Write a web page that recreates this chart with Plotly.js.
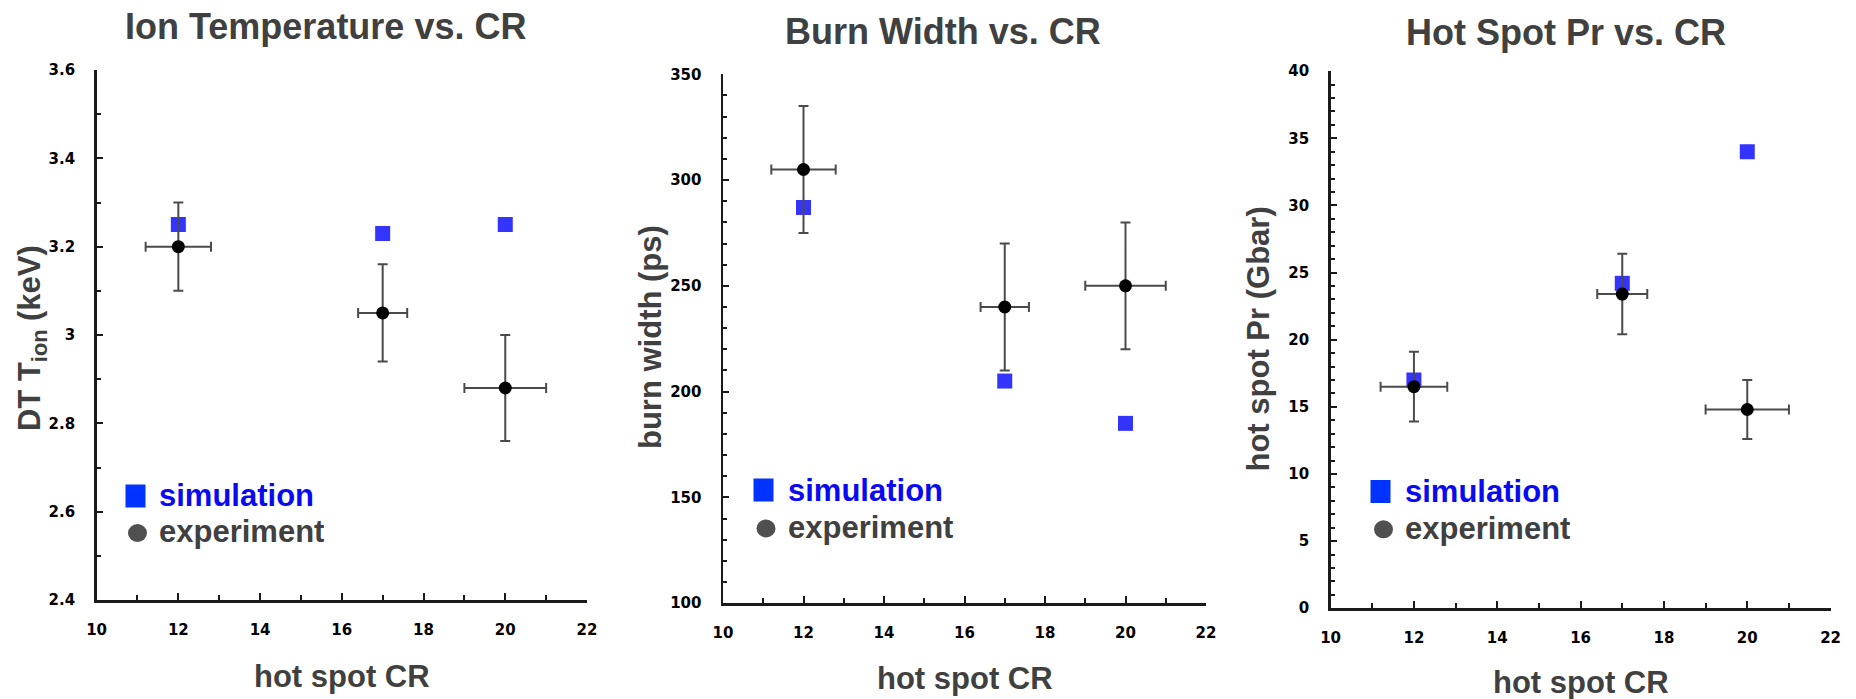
<!DOCTYPE html>
<html>
<head>
<meta charset="utf-8">
<script src="https://cdn.plot.ly/plotly-3.0.1.min.js"></script>
<style>html,body{margin:0;padding:0;background:#fff;}#chart{width:1856px;height:699px;}</style>
</head>
<body>
<div id="chart"></div>
<script>
// ---- data ----
const cr = [12, 17, 20];
const crErr = [0.8, 0.6, 1.0];

const tionSim = [3.25, 3.23, 3.25];
const tionExp = [3.2, 3.05, 2.88];
const tionErr = [0.1, 0.11, 0.12];

const burnSim = [287, 205, 185];
const burnExp = [305, 240, 250];
const burnErr = [30, 30, 30];

const prSim = [17, 24.2, 34];
const prExp = [16.5, 23.4, 14.8];
const prErr = [2.6, 3.0, 2.2];

const panelTitles = ['Ion Temperature vs. CR', 'Burn Width vs. CR', 'Hot Spot Pr vs. CR'];
const yTitles = ['DT T<sub>ion</sub> (keV)', 'burn width (ps)', 'hot spot Pr (Gbar)'];
const xTitle = 'hot spot CR';
const seriesNames = ['simulation', 'experiment'];

// ---- layout helpers ----
const W = 1856, H = 699;
const fx = p => p / W;
const fy = p => 1 - p / H;

const simColor = '#3434ff';
const expColor = '#000000';
const errColor = '#4a4a4a';
const textGray = '#404040';
const FONT_TICK = 'DejaVu Sans, Verdana, sans-serif';
const FONT = 'Liberation Sans, Arial, Helvetica, sans-serif';

function simTrace(y, ax) {
  return {
    type: 'scatter', mode: 'markers', name: seriesNames[0], x: cr, y: y,
    xaxis: 'x' + ax, yaxis: 'y' + ax, showlegend: false,
    marker: {symbol: 'square', size: 15, color: simColor}
  };
}
function expTrace(y, err, ax) {
  return {
    type: 'scatter', mode: 'markers', name: seriesNames[1], x: cr, y: y,
    xaxis: 'x' + ax, yaxis: 'y' + ax, showlegend: false,
    marker: {symbol: 'circle', size: 13, color: expColor},
    error_y: {type: 'data', array: err, visible: true, color: errColor, thickness: 2, width: 5},
    error_x: {type: 'data', array: crErr, visible: true, color: errColor, thickness: 2, width: 5}
  };
}

const data = [
  simTrace(tionSim, ''), expTrace(tionExp, tionErr, ''),
  simTrace(burnSim, '2'), expTrace(burnExp, burnErr, '2'),
  simTrace(prSim, '3'), expTrace(prExp, prErr, '3')
];

function xAxis(x0, x1, anchor) {
  return {
    domain: [fx(x0), fx(x1)], anchor: anchor, range: [10, 22], dtick: 2, tick0: 10,
    showline: true, linecolor: '#1a1a1a', linewidth: 2.5, showgrid: false, zeroline: false,
    ticks: 'inside', ticklen: 7, tickwidth: 2, tickcolor: '#1a1a1a',
    minor: {dtick: 1, ticks: 'inside', ticklen: 5, tickwidth: 2, tickcolor: '#1a1a1a'},
    tickfont: {family: FONT_TICK, size: 15, color: '#000', weight: 'bold'},
    ticklabelstandoff: 14, fixedrange: true
  };
}
function yAxis(yTop, yBot, anchor, range, dtick, minor) {
  return {
    domain: [fy(yBot), fy(yTop)], anchor: anchor, range: range, dtick: dtick, tick0: range[0],
    showline: true, linecolor: '#1a1a1a', linewidth: 2.5, showgrid: false, zeroline: false,
    ticks: 'inside', ticklen: 6, tickwidth: 2, tickcolor: '#1a1a1a',
    minor: {dtick: minor, ticks: 'inside', ticklen: 4, tickwidth: 2, tickcolor: '#1a1a1a'},
    tickfont: {family: FONT_TICK, size: 15, color: '#000', weight: 'bold'},
    ticklabelstandoff: 16, fixedrange: true
  };
}

const panels = [
  {x0: 96.6, x1: 587, yTop: 70, yBot: 600, titleX: 325, titleY: 26, xtY: 676, ytX: 32, ytY: 338,
   sq: [135.5, 496], circ: [137.5, 533], textX: 157, t1Y: 495, t2Y: 531},
  {x0: 723, x1: 1206, yTop: 74.3, yBot: 603.2, titleX: 943, titleY: 31, xtY: 678, ytX: 650, ytY: 337,
   sq: [763.5, 490], circ: [766, 528.5], textX: 786, t1Y: 490, t2Y: 527.5},
  {x0: 1330.6, x1: 1830.6, yTop: 71.2, yBot: 608.2, titleX: 1566, titleY: 33, xtY: 682, ytX: 1258, ytY: 339.5,
   sq: [1380.5, 491.5], circ: [1383.5, 529.3], textX: 1403, t1Y: 491.5, t2Y: 528.5}
];

const annotations = [];
const shapes = [];
panels.forEach((p, i) => {
  annotations.push({xref: 'paper', yref: 'paper', x: fx(p.titleX), y: fy(p.titleY), xanchor: 'center', yanchor: 'middle',
    text: panelTitles[i], showarrow: false, font: {family: FONT, size: 36, color: textGray, weight: 'bold'}});
  annotations.push({xref: 'paper', yref: 'paper', x: fx((p.x0 + p.x1) / 2), y: fy(p.xtY), xanchor: 'center', yanchor: 'middle',
    text: xTitle, showarrow: false, font: {family: FONT, size: 31, color: textGray, weight: 'bold'}});
  annotations.push({xref: 'paper', yref: 'paper', x: fx(p.ytX), y: fy(p.ytY), xanchor: 'center', yanchor: 'middle',
    text: yTitles[i], textangle: -90, showarrow: false, font: {family: FONT, size: 31, color: textGray, weight: 'bold'}});
  annotations.push({xref: 'paper', yref: 'paper', x: fx(p.textX), y: fy(p.t1Y), xanchor: 'left', yanchor: 'middle',
    text: seriesNames[0], showarrow: false, font: {family: FONT, size: 31, color: '#0a0af0', weight: 'bold'}});
  annotations.push({xref: 'paper', yref: 'paper', x: fx(p.textX), y: fy(p.t2Y), xanchor: 'left', yanchor: 'middle',
    text: seriesNames[1], showarrow: false, font: {family: FONT, size: 31, color: textGray, weight: 'bold'}});
  shapes.push({type: 'rect', xref: 'paper', yref: 'paper',
    x0: fx(p.sq[0] - 10), x1: fx(p.sq[0] + 10), y0: fy(p.sq[1] + 11.5), y1: fy(p.sq[1] - 11.5),
    fillcolor: '#0033ff', line: {width: 0}});
  shapes.push({type: 'circle', xref: 'paper', yref: 'paper',
    x0: fx(p.circ[0] - 9.5), x1: fx(p.circ[0] + 9.5), y0: fy(p.circ[1] + 9), y1: fy(p.circ[1] - 9),
    fillcolor: '#505050', line: {width: 0}});
});

const layout = {
  width: W, height: H,
  margin: {l: 0, r: 0, t: 0, b: 0},
  paper_bgcolor: '#ffffff', plot_bgcolor: '#ffffff',
  showlegend: false,
  xaxis: xAxis(panels[0].x0, panels[0].x1, 'y'),
  yaxis: yAxis(panels[0].yTop, panels[0].yBot, 'x', [2.4, 3.6], 0.2, 0.1),
  xaxis2: xAxis(panels[1].x0, panels[1].x1, 'y2'),
  yaxis2: yAxis(panels[1].yTop, panels[1].yBot, 'x2', [100, 350], 50, 10),
  xaxis3: xAxis(panels[2].x0, panels[2].x1, 'y3'),
  yaxis3: yAxis(panels[2].yTop, panels[2].yBot, 'x3', [0, 40], 5, 1),
  annotations: annotations,
  shapes: shapes
};

Plotly.newPlot('chart', data, layout, {displayModeBar: false, staticPlot: true});
</script>
</body>
</html>
